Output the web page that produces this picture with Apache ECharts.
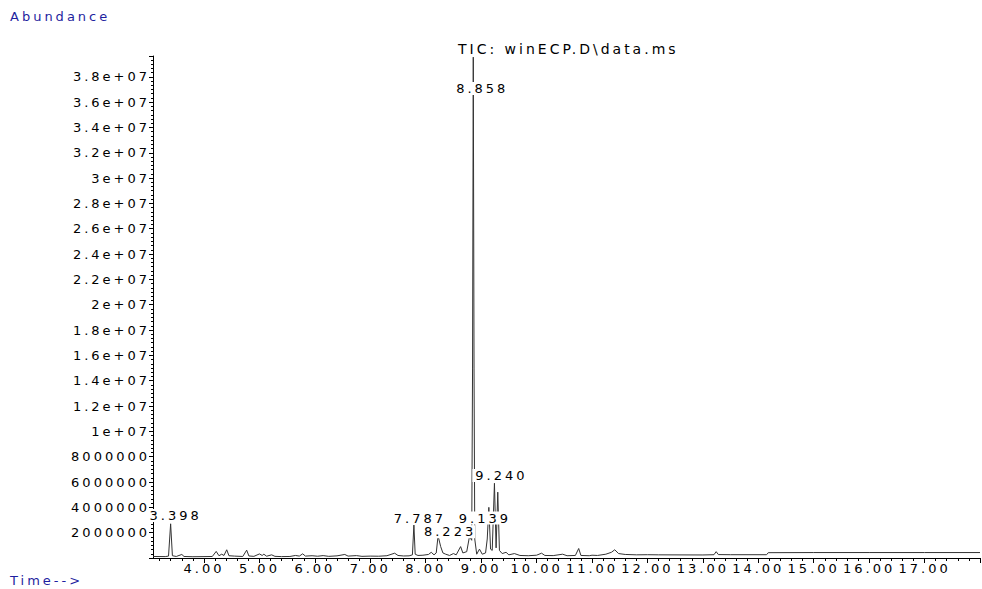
<!DOCTYPE html>
<html>
<head>
<meta charset="utf-8">
<title>TIC winECP</title>
<script src="https://cdn.jsdelivr.net/npm/echarts@6/dist/echarts.min.js"></script>
<style>
  html, body { margin: 0; padding: 0; background: #fff; }
  #chart { width: 982px; height: 589px; }
  /* ChemStation prints its text very wide */
  #chart svg text { letter-spacing: 3px; }
</style>
</head>
<body>
<div id="chart"></div>
<script>
// retention time (min) / abundance
const times = [
  3.08, 3.30, 3.36, 3.398, 3.43, 3.50, 3.60, 3.64, 3.80, 4.00,
  4.15, 4.22, 4.27, 4.32, 4.36, 4.41, 4.45, 4.55, 4.70, 4.77,
  4.81, 4.90, 5.00, 5.05, 5.08, 5.13, 5.22, 5.28, 5.40, 5.55,
  5.65, 5.72, 5.78, 5.83, 5.95, 6.05, 6.15, 6.25, 6.40, 6.54,
  6.60, 6.75, 6.85, 7.00, 7.15, 7.30, 7.44, 7.50, 7.60, 7.70,
  7.76, 7.787, 7.81, 7.86, 7.95, 8.05, 8.10, 8.15, 8.19, 8.223,
  8.27, 8.31, 8.36, 8.43, 8.50, 8.55, 8.63, 8.67, 8.74, 8.79,
  8.83, 8.845, 8.858, 8.872, 8.885, 8.92, 8.97, 9.02, 9.08, 9.11,
  9.139, 9.17, 9.20, 9.24, 9.27, 9.30, 9.33, 9.38, 9.45, 9.50,
  9.60, 9.70, 9.85, 10.00, 10.09, 10.15, 10.30, 10.47, 10.55, 10.70,
  10.76, 10.80, 10.95, 11.00, 11.10, 11.25, 11.35, 11.41, 11.48, 11.60,
  11.80, 12.00, 12.20, 13.00, 13.20, 13.24, 13.28, 13.50, 14.15, 14.18,
  15.00, 16.00, 17.00, 18.00
];
const abundance = [
  120000, 110000, 150000, 2700000, 180000, 120000, 280000, 120000, 100000, 110000,
  120000, 520000, 180000, 300000, 200000, 650000, 180000, 150000, 120000, 620000,
  160000, 130000, 320000, 200000, 300000, 140000, 250000, 130000, 110000, 120000,
  200000, 150000, 330000, 150000, 180000, 140000, 190000, 130000, 170000, 280000,
  150000, 190000, 130000, 150000, 140000, 180000, 380000, 200000, 160000, 170000,
  250000, 2600000, 300000, 200000, 220000, 280000, 450000, 250000, 400000, 1750000,
  900000, 400000, 300000, 200000, 350000, 250000, 900000, 400000, 500000, 1700000,
  1400000, 15000000, 39550000, 15000000, 1500000, 300000, 700000, 300000, 400000, 1500000,
  4000000, 700000, 600000, 5900000, 800000, 5200000, 600000, 350000, 450000, 250000,
  350000, 200000, 180000, 220000, 380000, 200000, 190000, 300000, 180000, 200000,
  750000, 200000, 180000, 220000, 200000, 300000, 450000, 650000, 350000, 280000,
  250000, 260000, 250000, 240000, 260000, 500000, 270000, 260000, 260000, 420000,
  430000, 430000, 430000, 430000
];

// integrated peaks: retention time and the height where its label sits
const peakTimes = [3.398, 7.787, 8.223, 8.858, 9.139, 9.240];
const peakLabelLevels = [3360000, 3150000, 2080000, 37070000, 3150000, 6510000];
// small sideways nudges (px) so labels don't collide, as on the printout
const peakLabelNudge = [3, 4, 10, 7, -6, 5];

const majorTimes = [4, 5, 6, 7, 8, 9, 10, 11, 12, 13, 14, 15, 16, 17, 18];
const timeLabels = [4, 5, 6, 7, 8, 9, 10, 11, 12, 13, 14, 15, 16, 17];
const minorTimes = [];
for (let t = 3.2; t < 18.01; t += 0.2) minorTimes.push(Math.round(t * 10) / 10);

const chart = echarts.init(document.getElementById('chart'), null, { renderer: 'svg' });

const textFont = 'DejaVu Sans, Verdana, sans-serif';

const fmtAbundance = v => {
  if (v <= 0 || v % 2000000 !== 0) return '';
  if (v < 1e7) return String(v);
  return Number((v / 1e7).toFixed(1)) + 'e+07';
};

const option = {
  animation: false,
  backgroundColor: '#fff',
  grid: { left: 153, right: 2, top: 56, bottom: 31 },
  graphic: [
    {
      type: 'text', left: 10, top: 10,
      style: { text: 'Abundance', fill: '#1f1fa0', font: '13px ' + textFont }
    },
    {
      type: 'text', left: 10, top: 574,
      style: { text: 'Time-->', fill: '#1f1fa0', font: '13px ' + textFont }
    },
    {
      type: 'text', left: 458, top: 42,
      style: { text: 'TIC: winECP.D\\data.ms', fill: '#000', font: '14px ' + textFont }
    }
  ],
  xAxis: [
    {
      type: 'value', min: 3.08, max: 18.0,
      axisLine: { lineStyle: { color: '#000', width: 1 } },
      axisTick: { customValues: majorTimes, length: 5, lineStyle: { color: '#000' } },
      axisLabel: {
        customValues: timeLabels, margin: 4,
        formatter: v => v.toFixed(2),
        color: '#000', fontFamily: textFont, fontSize: 13
      },
      splitLine: { show: false }
    },
    {
      type: 'value', min: 3.08, max: 18.0, position: 'bottom',
      axisLine: { show: false },
      axisTick: { customValues: minorTimes, length: 3, lineStyle: { color: '#000' } },
      axisLabel: { show: false },
      splitLine: { show: false }
    }
  ],
  yAxis: {
    type: 'value', min: 0, max: 39640000, interval: 2000000,
    axisLine: { show: true, lineStyle: { color: '#000', width: 1 } },
    axisTick: { show: true, length: 4, lineStyle: { color: '#000' } },
    minorTick: { show: true, splitNumber: 6, length: 2, lineStyle: { color: '#000' } },
    axisLabel: {
      formatter: fmtAbundance, margin: 3, showMaxLabel: false,
      color: '#000', fontFamily: textFont, fontSize: 13
    },
    splitLine: { show: false }
  },
  series: [
    {
      type: 'line',
      xAxisIndex: 0,
      data: times.map((t, i) => [t, abundance[i]]),
      symbol: 'none',
      lineStyle: { color: '#333', width: 1 },
      z: 2
    },
    {
      // white box under each retention-time label, knocks the trace out like the printout
      type: 'scatter',
      xAxisIndex: 0,
      symbol: 'rect',
      symbolSize: v => [v[0].toFixed(3).length * 10.4 + 2, 13],
      symbolOffset: (v, p) => [peakLabelNudge[p.dataIndex], 0],
      itemStyle: { color: '#fff', opacity: 1 },
      clip: false,
      silent: true,
      data: peakTimes.map((t, i) => [t, peakLabelLevels[i]]),
      label: {
        show: true,
        position: 'inside',
        formatter: p => p.value[0].toFixed(3),
        color: '#000',
        fontFamily: textFont,
        fontSize: 13,
        offset: [2, 0]
      },
      z: 10
    }
  ]
};

chart.setOption(option);
</script>
</body>
</html>
